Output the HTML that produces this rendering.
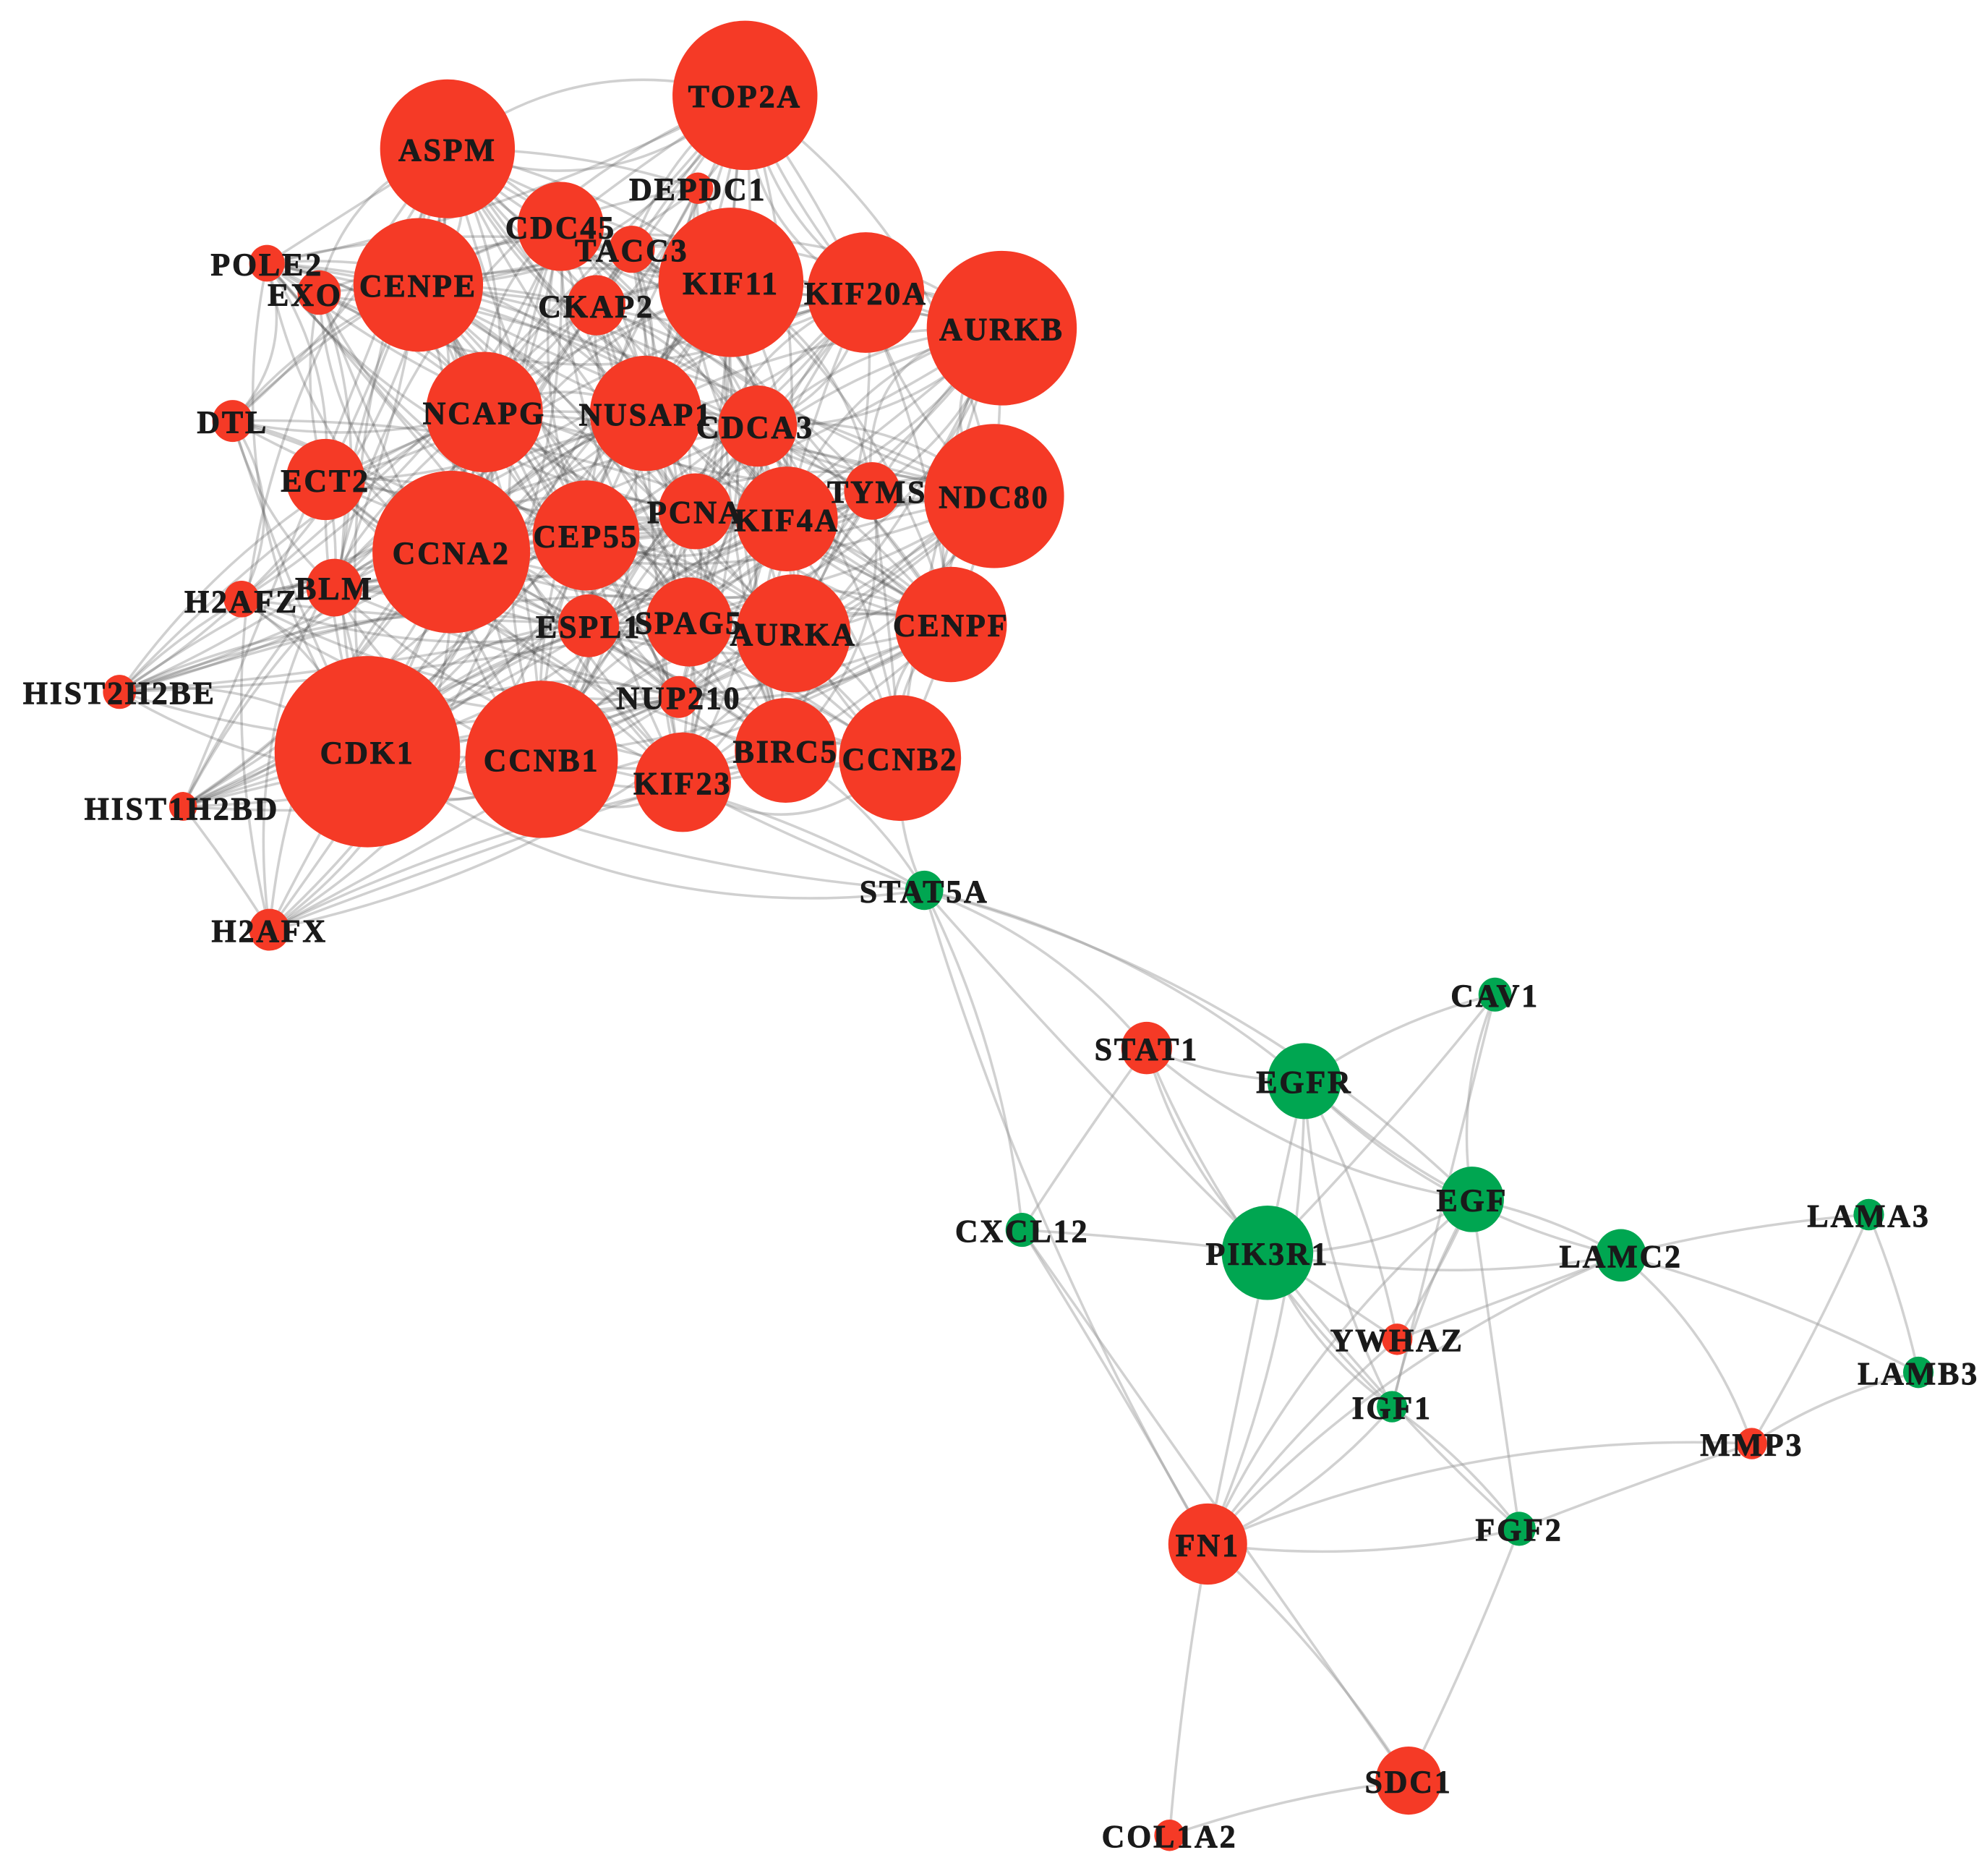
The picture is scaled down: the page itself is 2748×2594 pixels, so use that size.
<!DOCTYPE html>
<html><head><meta charset="utf-8"><style>
html,body{margin:0;padding:0;background:#fff;}
svg{display:block;}
text{font-family:"Liberation Serif","DejaVu Serif",serif;font-weight:bold;fill:#1a1a1a;text-anchor:middle;dominant-baseline:central;font-size:25px;letter-spacing:1.6px;stroke:#1a1a1a;stroke-width:0.5px;}
</style></head><body>
<svg id="s" width="2748" height="2594" viewBox="0 0 1563 1475" preserveAspectRatio="none" xmlns="http://www.w3.org/2000/svg">
<g id="edges" fill="none"></g><g id="nodes"></g><g id="labels"></g>
</svg>
<script>
var R='#F53A26',G='#00A651';
var N={
TOP2A:[586,75,57,R],ASPM:[352,117,53,R],DEPDC1:[549,148,12,R],CDC45:[441,178,34,R],TACC3:[497,196,18,R],
KIF11:[575,222,57,R],KIF20A:[681,230,46,R],AURKB:[788,258,59,R],POLE2:[210,207,14,R],EXO:[251,230,17,R],
CENPE:[329,224,51,R],CKAP2:[469,240,23,R],DTL:[183,331,16,R],NCAPG:[381,324,46,R],NUSAP1:[508,325,44,R],
CDCA3:[596,335,31,R],ECT2:[256,377,31,R],CCNA2:[355,434,62,R],CEP55:[461,421,42,R],PCNA:[547,402,29,R],
KIF4A:[619,408,40,R],TYMS:[686,386,22,R],NDC80:[782,390,55,R],H2AFZ:[190,471,14,R],BLM:[263,462,22,R],
ESPL1:[463,492,24,R],SPAG5:[542,489,34,R],AURKA:[624,498,45,R],CENPF:[748,491,44,R],HIST2H2BE:[94,544,13,R],
NUP210:[534,548,16,R],CDK1:[289,591,73,R],CCNB1:[426,597,60,R],KIF23:[537,615,38,R],BIRC5:[618,590,40,R],
CCNB2:[708,596,48,R],HIST1H2BD:[144,634,11,R],H2AFX:[212,731,16,R],
STAT5A:[727,700,15,G],CAV1:[1176,782,13,G],STAT1:[902,824,20,R],EGFR:[1026,850,29,G],CXCL12:[804,967,13,G],
EGF:[1158,943,25,G],PIK3R1:[997,985,36,G],LAMC2:[1275,987,20,G],LAMA3:[1470,955,12,G],YWHAZ:[1099,1053,12,R],
LAMB3:[1509,1079,12,G],IGF1:[1095,1106,12,G],MMP3:[1378,1135,12,R],FGF2:[1195,1202,13,G],FN1:[950,1214,31,R],
SDC1:[1108,1400,26,R],COL1A2:[920,1443,12,R]};
var LBL={EXO:[240,231],CDCA3:[594,335],TYMS:[690,386],H2AFZ:[190,472],CDC45:[441,178],TACC3:[497,196],PCNA:[547,402],ESPL1:[463,492],NUP210:[534,548],BIRC5:[618,590],STAT1:[902,824],YWHAZ:[1099,1053],HIST2H2BE:[94,544],HIST1H2BD:[143,635]};
var low=[["STAT5A","EGFR"],["STAT5A","STAT1"],["STAT5A","CXCL12"],["STAT5A","PIK3R1"],["STAT5A","FN1"],["STAT5A","CCNB1"],["STAT5A","CDK1"],["STAT5A","CCNB2"],["STAT5A","KIF23"],["STAT5A","EGF"],["STAT5A","BIRC5"],
["STAT1","EGFR"],["STAT1","CXCL12"],["STAT1","PIK3R1"],["STAT1","EGF"],["STAT1","IGF1"],
["EGFR","CAV1"],["EGFR","EGF"],["EGFR","PIK3R1"],["EGFR","LAMC2"],["EGFR","YWHAZ"],["EGFR","IGF1"],["EGFR","FN1"],
["CAV1","EGF"],["CAV1","PIK3R1"],["CAV1","IGF1"],["EGF","PIK3R1"],["EGF","LAMC2"],["EGF","FGF2"],["EGF","IGF1"],["EGF","FN1"],["EGF","YWHAZ"],
["PIK3R1","CXCL12"],["PIK3R1","LAMC2"],["PIK3R1","YWHAZ"],["PIK3R1","IGF1"],["PIK3R1","FGF2"],["CXCL12","FN1"],["CXCL12","SDC1"],
["LAMC2","LAMA3"],["LAMC2","LAMB3"],["LAMC2","MMP3"],["LAMC2","YWHAZ"],["LAMA3","LAMB3"],["LAMA3","MMP3"],["LAMB3","MMP3"],
["MMP3","FGF2"],["MMP3","FN1"],["IGF1","FN1"],["IGF1","FGF2"],["FN1","FGF2"],["FN1","SDC1"],["FN1","COL1A2"],["FGF2","SDC1"],["SDC1","COL1A2"],["FN1","PIK3R1"],["FN1","YWHAZ"],["FN1","LAMC2"]];
var ns="http://www.w3.org/2000/svg";
function E(g,t,a){var e=document.createElementNS(ns,t);for(var k in a)e.setAttribute(k,a[k]);document.getElementById(g).appendChild(e);return e;}
function curve(a,b,col,op,bend){var x1=a[0],y1=a[1],x2=b[0],y2=b[1];var mx=(x1+x2)/2,my=(y1+y2)/2,dx=x2-x1,dy=y2-y1;
var cx=mx-dy*bend,cy=my+dx*bend;E("edges","path",{d:"M"+x1+","+y1+" Q"+cx+","+cy+" "+x2+","+y2,stroke:col,"stroke-opacity":op,"stroke-width":2});}
var seed=7;function rnd(){seed=(seed*16807)%2147483647;return seed/2147483647;}
var red=Object.keys(N).slice(0,38);
for(var i=0;i<red.length;i++)for(var j=i+1;j<red.length;j++){var a=N[red[i]],b=N[red[j]];var d=Math.hypot(a[0]-b[0],a[1]-b[1]);
var p=(a[2]+b[2])/90*(d<250?1:0.6);if(rnd()<p)curve(a,b,"#444",0.25,(rnd()-0.5)*0.6);}
// outer loops
var outer=[["TOP2A","AURKB",0.35],["ASPM","TOP2A",0.3],["AURKB","NDC80",0.45],["NDC80","CENPF",0.4],["CENPF","CCNB2",0.4],["ASPM","CENPE",-0.4],["CDK1","CCNB1",0.5],["CCNB1","KIF23",0.5],["KIF23","CCNB2",0.4],["POLE2","DTL",-0.3],["DTL","H2AFZ",-0.3],["TOP2A","KIF20A",0.3],["AURKB","TYMS",0.5],["CDK1","STAT5A",0.2]];
outer.forEach(function(e){curve(N[e[0]],N[e[1]],"#777",0.35,e[2]);});
low.forEach(function(e){curve(N[e[0]],N[e[1]],"#999",0.45,(rnd()-0.5)*0.3);});
for(var k in N){var n=N[k];E("nodes","ellipse",{cx:n[0],cy:n[1],rx:n[2],ry:n[2]*1.03,fill:n[3]});}
for(var k in N){var n=N[k],p=LBL[k]||[n[0],n[1]];var t=E("labels","text",{x:p[0],y:p[1]+1});t.textContent=k;}
</script>
</body></html>
